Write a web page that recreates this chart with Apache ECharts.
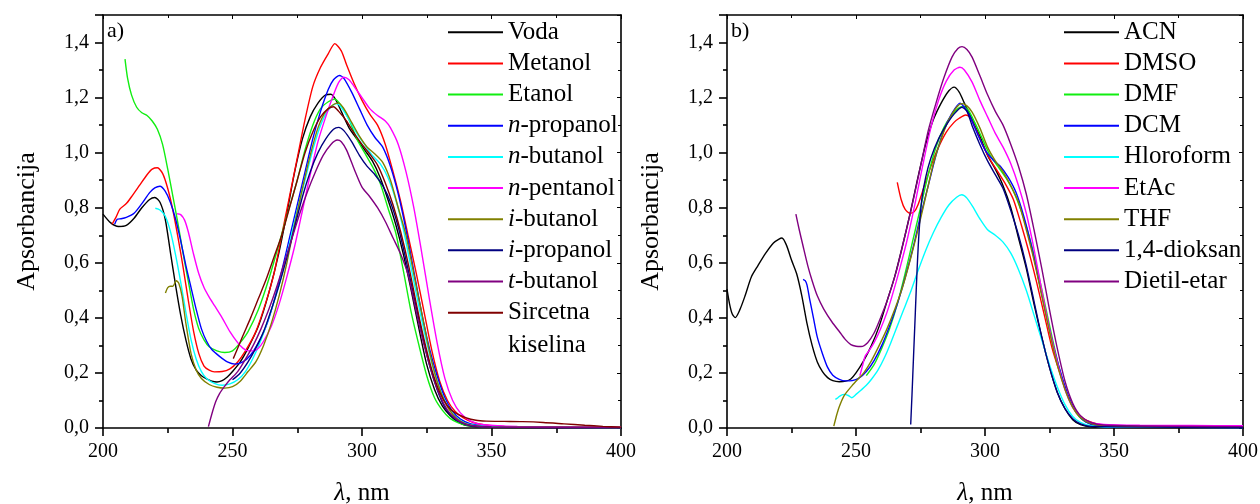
<!DOCTYPE html>
<html>
<head>
<meta charset="utf-8">
<script src="https://cdn.jsdelivr.net/npm/echarts@6/dist/echarts.min.js"></script>
<style>
  html, body { margin: 0; padding: 0; background: #fff; }
  #chart { width: 1260px; height: 504px; }
</style>
</head>
<body>
<div id="chart"></div>
<script>
const font = 'Liberation Serif'

// a) voda, alkoholi, sircetna kiselina
const namesA = ['Voda', 'Metanol', 'Etanol', 'n-propanol', 'n-butanol', 'n-pentanol',
  'i-butanol', 'i-propanol', 't-butanol', 'Sircetna kiselina']
const colorsA = ['#000000', '#ff0000', '#11ee11', '#0000ff', '#00ffff', '#ff00ff',
  '#808000', '#000080', '#800080', '#800000']

const voda = [[200,0.777],[203,0.745],[206,0.732],[209,0.736],[212,0.762],[215,0.8],[218,0.83],[220,0.837],[222,0.82],[224,0.76],[226,0.64],[228,0.52],[230,0.41],[232,0.32],[234,0.25],[236,0.21],[238,0.19],[240,0.178],[242,0.17],[244,0.167],[246,0.172],[248,0.185],[250,0.205],[253,0.24],[256,0.29],[260,0.37],[264,0.49],[268,0.64],[271,0.78],[274,0.93],[277,1.05],[280,1.13],[283,1.18],[286,1.21],[288,1.212],[290,1.19],[292,1.15],[295,1.09],[298,1.05],[301,1.01],[304,0.97],[307,0.91],[310,0.83],[313,0.74],[316,0.63],[319,0.5],[322,0.36],[325,0.23],[328,0.14],[331,0.08],[334,0.045],[337,0.022],[340,0.01],[345,0.004],[360,0.002],[400,0.001]]
const metanol = [[203.5,0.74],[205,0.765],[206.5,0.795],[209,0.815],[211,0.84],[214,0.88],[217,0.92],[219,0.94],[221,0.945],[223,0.925],[225,0.87],[227,0.79],[229,0.69],[231,0.58],[233,0.46],[235,0.35],[237,0.27],[239,0.225],[241,0.21],[243,0.204],[246,0.205],[249,0.215],[252,0.24],[255,0.28],[259,0.35],[263,0.46],[266,0.56],[269,0.7],[272,0.84],[275,0.98],[278,1.12],[281,1.24],[284,1.31],[287,1.36],[289.5,1.396],[292,1.37],[294,1.32],[297,1.25],[300,1.19],[303,1.14],[306,1.1],[309,1.03],[312,0.93],[315,0.82],[318,0.69],[321,0.56],[324,0.42],[327,0.28],[330,0.17],[333,0.1],[336,0.06],[339,0.038],[343,0.02],[347,0.012],[355,0.006],[400,0.003]]
const etanol = [[208.5,1.34],[209.5,1.27],[211,1.21],[213,1.165],[215,1.145],[217,1.135],[219,1.115],[221,1.085],[223,1.03],[225,0.94],[227,0.84],[229,0.74],[231,0.63],[233,0.53],[235,0.43],[237,0.36],[239,0.32],[241,0.295],[244,0.28],[247,0.274],[250,0.28],[253,0.31],[256,0.35],[260,0.43],[264,0.54],[268,0.67],[271,0.77],[275,0.9],[278,1.01],[281,1.1],[284,1.16],[287,1.185],[289.5,1.195],[292,1.17],[295,1.12],[298,1.05],[301,1.0],[304,0.95],[307,0.89],[310,0.8],[313,0.71],[316,0.57],[319,0.42],[322,0.3],[325,0.19],[328,0.11],[331,0.065],[334,0.035],[337,0.02],[341,0.009],[350,0.004],[400,0.001]]
const nPropanol = [[204.5,0.74],[205.5,0.758],[207,0.76],[209,0.765],[212,0.78],[215,0.815],[218,0.855],[220,0.872],[222,0.878],[224,0.86],[226,0.82],[228,0.76],[230,0.68],[232,0.59],[234,0.51],[236,0.43],[238,0.36],[240,0.315],[242,0.285],[245,0.26],[248,0.24],[251,0.232],[254,0.24],[257,0.265],[260,0.31],[263,0.37],[266,0.46],[269,0.57],[272,0.69],[275,0.81],[278,0.93],[281,1.05],[284,1.15],[287,1.23],[289,1.265],[291.3,1.28],[293,1.27],[296,1.22],[299,1.16],[302,1.1],[305,1.055],[308,1.02],[311,0.95],[314,0.85],[317,0.72],[320,0.57],[323,0.42],[326,0.29],[329,0.19],[332,0.11],[335,0.06],[338,0.032],[342,0.015],[350,0.005],[400,0.002]]
const nButanol = [[220.2,0.798],[222,0.792],[224,0.77],[226,0.715],[228,0.63],[230,0.53],[232,0.42],[234,0.32],[236,0.25],[238,0.205],[240,0.18],[243,0.162],[246,0.155],[249,0.16],[252,0.175],[255,0.205],[258,0.255],[261,0.32],[264,0.4],[268,0.52],[271,0.63],[275,0.79],[278,0.9],[281,1.01],[284,1.1],[287,1.155],[290,1.178],[292,1.165],[295,1.12],[298,1.07],[301,1.03],[304,0.99],[307,0.96],[310,0.91],[313,0.83],[316,0.72],[319,0.58],[322,0.44],[325,0.31],[328,0.2],[331,0.12],[334,0.065],[337,0.033],[341,0.014],[350,0.005],[400,0.002]]
const nPentanol = [[228.6,0.778],[230,0.775],[231.5,0.755],[233,0.71],[235,0.63],[237,0.56],[239,0.51],[241,0.475],[243,0.445],[246,0.4],[249,0.35],[252,0.31],[254,0.29],[256,0.28],[258,0.28],[260,0.29],[262,0.315],[265,0.37],[268,0.45],[271,0.55],[274,0.66],[277,0.79],[280,0.92],[283,1.04],[286,1.13],[289,1.21],[291,1.255],[293,1.274],[295,1.265],[297,1.24],[300,1.2],[303,1.16],[306,1.135],[309,1.115],[311,1.09],[314,1.03],[317,0.93],[320,0.8],[323,0.64],[326,0.47],[329,0.31],[332,0.18],[335,0.1],[338,0.055],[342,0.025],[347,0.012],[360,0.006],[400,0.003]]
const iButanol = [[224.1,0.49],[225,0.51],[226,0.515],[227,0.515],[228.3,0.535],[229.3,0.525],[230.5,0.48],[232,0.38],[234,0.27],[236,0.21],[238,0.18],[241,0.158],[244,0.148],[247,0.145],[250,0.15],[253,0.17],[256,0.205],[259,0.24],[262,0.3],[265,0.38],[268,0.48],[271,0.6],[274,0.74],[277,0.87],[280,0.99],[283,1.09],[286,1.15],[289,1.175],[291,1.18],[293,1.16],[296,1.11],[299,1.06],[302,1.02],[305,0.995],[308,0.965],[311,0.9],[314,0.8],[317,0.7],[320,0.56],[323,0.42],[326,0.28],[329,0.17],[332,0.095],[335,0.05],[338,0.025],[342,0.01],[350,0.004],[400,0.002]]
const iPropanol = [[250,0.175],[253,0.2],[256,0.24],[259,0.29],[262,0.35],[265,0.43],[268,0.52],[271,0.62],[274,0.73],[277,0.84],[280,0.93],[283,1.0],[286,1.05],[289,1.085],[291,1.092],[293,1.08],[296,1.04],[299,0.99],[302,0.95],[305,0.92],[308,0.88],[311,0.82],[314,0.73],[317,0.61],[320,0.48],[323,0.35],[326,0.23],[329,0.14],[332,0.075],[335,0.04],[338,0.02],[342,0.008],[350,0.003],[400,0.001]]
const tButanol = [[240.7,0.005],[242,0.05],[243.5,0.095],[245,0.125],[247,0.152],[249,0.175],[252,0.205],[255,0.25],[258,0.3],[261,0.36],[264,0.43],[267,0.51],[270,0.6],[273,0.69],[276,0.78],[279,0.86],[282,0.93],[285,0.99],[288,1.03],[290.5,1.046],[292,1.04],[294,1.01],[297,0.94],[300,0.875],[303,0.84],[306,0.8],[309,0.75],[312,0.69],[315,0.63],[318,0.55],[321,0.42],[324,0.3],[327,0.2],[330,0.12],[333,0.065],[336,0.035],[339,0.018],[343,0.008],[350,0.003],[400,0.001]]
const sircetna = [[250.3,0.252],[252,0.29],[254,0.335],[257,0.4],[260,0.47],[263,0.54],[266,0.62],[269,0.7],[272,0.8],[275,0.9],[278,1.0],[281,1.075],[284,1.13],[287,1.16],[289,1.167],[291,1.15],[294,1.115],[297,1.07],[300,1.03],[303,0.995],[306,0.955],[309,0.89],[312,0.81],[315,0.71],[318,0.59],[321,0.45],[324,0.32],[327,0.21],[330,0.13],[333,0.08],[336,0.055],[340,0.038],[344,0.028],[348,0.025],[355,0.024],[362,0.023],[370,0.02],[378,0.015],[386,0.01],[393,0.006],[400,0.003]]
const dataA = [voda, metanol, etanol, nPropanol, nButanol, nPentanol, iButanol, iPropanol, tButanol, sircetna]

// b) aprotični rastvarači
const namesB = ['ACN', 'DMSO', 'DMF', 'DCM', 'Hloroform', 'EtAc', 'THF', '1,4-dioksan', 'Dietil-etar']
const colorsB = ['#000000', '#ff0000', '#11ee11', '#0000ff', '#00ffff', '#ff00ff',
  '#808000', '#000080', '#800080']

const acn = [[200,0.504],[201,0.45],[202,0.415],[203.2,0.401],[205,0.43],[207,0.48],[209.5,0.55],[212,0.59],[215,0.635],[218,0.672],[220,0.685],[221.3,0.69],[223,0.665],[225,0.61],[227,0.56],[229,0.48],[231,0.38],[233,0.3],[235,0.24],[237,0.205],[239,0.183],[241,0.172],[243.5,0.168],[246,0.17],[248,0.178],[250,0.2],[253,0.245],[256,0.3],[259,0.37],[262,0.46],[265,0.55],[268,0.66],[271,0.78],[274,0.91],[277,1.03],[280,1.12],[283,1.18],[286,1.225],[288,1.238],[290,1.22],[292,1.18],[295,1.12],[298,1.06],[301,0.99],[304,0.94],[307,0.88],[310,0.8],[313,0.69],[316,0.58],[319,0.45],[322,0.33],[325,0.22],[328,0.13],[331,0.07],[334,0.03],[337,0.012],[341,0.004],[360,0.002],[400,0.002]]
const dmso = [[266,0.892],[267.5,0.83],[269,0.795],[270.9,0.78],[272.5,0.785],[274,0.81],[276.5,0.88],[279,0.95],[282,1.02],[285,1.075],[288,1.11],[290,1.125],[292.5,1.137],[294,1.13],[296,1.095],[299,1.03],[302,0.975],[305,0.93],[308,0.885],[311,0.83],[314,0.74],[317,0.64],[320,0.53],[323,0.41],[326,0.29],[329,0.2],[332,0.12],[335,0.065],[338,0.035],[342,0.018],[347,0.01],[360,0.007],[400,0.006]]
const dmf = [[254,0.19],[257,0.23],[260,0.29],[263,0.36],[266,0.45],[269,0.56],[272,0.68],[275,0.8],[278,0.92],[281,1.02],[284,1.09],[287,1.135],[289.5,1.16],[291.5,1.168],[293.5,1.155],[296,1.11],[299,1.05],[302,0.99],[305,0.95],[308,0.91],[311,0.86],[314,0.79],[317,0.7],[320,0.59],[323,0.46],[326,0.33],[329,0.21],[332,0.12],[335,0.06],[338,0.028],[342,0.012],[348,0.007],[400,0.005]]
const dcm = [[229.5,0.54],[230.3,0.535],[231,0.52],[232,0.47],[233.5,0.4],[235,0.33],[237,0.27],[239,0.22],[241,0.192],[243.5,0.177],[246,0.171],[248.5,0.172],[251,0.18],[254,0.205],[257,0.245],[260,0.3],[263,0.37],[266,0.45],[269,0.545],[272,0.65],[275,0.77],[278,0.88],[281,0.99],[284,1.08],[287,1.14],[290.3,1.18],[292,1.165],[294,1.135],[297,1.07],[300,1.01],[303,0.975],[306,0.95],[309,0.91],[312,0.856],[315,0.77],[318,0.66],[321,0.53],[324,0.4],[327,0.28],[330,0.18],[333,0.1],[336,0.05],[339,0.022],[343,0.009],[350,0.003],[400,0.002]]
const hloroform = [[242,0.104],[243,0.11],[244,0.118],[245.5,0.122],[247,0.118],[248.4,0.11],[250,0.122],[252,0.138],[254,0.155],[256,0.177],[258.5,0.21],[261,0.255],[263.5,0.31],[266,0.37],[268.5,0.43],[271,0.49],[274,0.57],[277,0.645],[280,0.71],[283,0.765],[286,0.81],[289,0.838],[291,0.847],[293,0.835],[295.5,0.8],[298,0.76],[301,0.72],[304,0.7],[307,0.675],[310,0.635],[313,0.575],[316,0.5],[319,0.41],[322,0.32],[325,0.23],[328,0.15],[331,0.085],[334,0.042],[337,0.02],[341,0.008],[350,0.003],[400,0.002]]
const etac = [[251.5,0.19],[252.5,0.225],[253.5,0.26],[255,0.28],[257,0.31],[259.3,0.355],[262,0.42],[264,0.48],[267,0.58],[270,0.69],[273,0.82],[276,0.96],[279,1.09],[282,1.19],[285,1.26],[288,1.3],[290.3,1.31],[292,1.3],[295,1.256],[298,1.19],[301,1.13],[304,1.07],[307,1.02],[310,0.96],[313,0.88],[316,0.78],[319,0.65],[322,0.5],[325,0.36],[328,0.24],[331,0.14],[334,0.075],[337,0.04],[341,0.02],[346,0.013],[360,0.01],[380,0.009],[400,0.008]]
const thf = [[241.4,0.007],[242.3,0.04],[243.3,0.072],[245.3,0.116],[248.4,0.153],[251,0.18],[253,0.2],[256,0.245],[259,0.3],[262,0.36],[265,0.43],[268,0.51],[271,0.61],[274,0.72],[277,0.84],[280,0.96],[283,1.05],[286,1.12],[289,1.165],[291.1,1.178],[293,1.17],[295,1.147],[298,1.09],[301,1.02],[304,0.97],[307,0.93],[310,0.88],[313,0.82],[316,0.72],[319,0.61],[322,0.48],[325,0.35],[328,0.23],[331,0.14],[334,0.075],[337,0.038],[341,0.016],[350,0.006],[400,0.004]]
const dioksan = [[271.2,0.013],[271.7,0.12],[272.3,0.26],[273,0.42],[273.7,0.58],[274.5,0.72],[275.5,0.83],[277,0.91],[279,0.98],[282,1.05],[285,1.1],[288,1.14],[291,1.165],[293,1.15],[295,1.098],[298,1.03],[301,0.97],[304,0.92],[307,0.87],[310,0.79],[313,0.7],[316,0.59],[319,0.46],[322,0.33],[325,0.22],[328,0.13],[331,0.07],[334,0.034],[337,0.015],[341,0.006],[400,0.002]]
const dietil = [[226.7,0.777],[228,0.72],[229.5,0.66],[231.3,0.59],[233,0.535],[235,0.48],[237.5,0.432],[240.7,0.385],[243.8,0.347],[246,0.32],[248,0.303],[250,0.297],[252,0.296],[254.5,0.31],[257,0.345],[259.3,0.395],[262,0.46],[265.5,0.565],[268.5,0.68],[271.7,0.807],[275,0.95],[278,1.08],[281,1.18],[284,1.27],[287.2,1.347],[289.5,1.378],[291.1,1.385],[293,1.375],[295,1.347],[298,1.28],[301,1.21],[304,1.15],[307,1.1],[310,1.03],[313,0.95],[316,0.85],[319,0.72],[322,0.58],[325,0.43],[328,0.29],[331,0.17],[334,0.09],[337,0.045],[341,0.02],[347,0.01],[400,0.005]]
const dataB = [acn, dmso, dmf, dcm, hloroform, etac, thf, dioksan, dietil]

const axisColor = '#000'
const lineW = 1.6

function frameAxes(grid) {
  const base = {
    type: 'value', gridIndex: grid, splitLine: { show: false },
    axisLine: { onZero: false, lineStyle: { color: axisColor, width: lineW } },
  }
  const xAxis = [
    Object.assign({}, base, {
      position: 'bottom', min: 200, max: 400, interval: 50,
      axisTick: { length: 8, lineStyle: { color: axisColor, width: lineW } },
      minorTick: { show: true, splitNumber: 2, length: 5, lineStyle: { color: axisColor, width: lineW } },
      axisLabel: { fontFamily: font, fontSize: 20, color: '#000', margin: 14 },
      name: '{i|λ}, nm', nameLocation: 'middle', nameGap: 53,
      nameTextStyle: { fontFamily: font, fontSize: 25, color: '#000',
        rich: { i: { fontFamily: font, fontSize: 25, fontStyle: 'italic', color: '#000' } } },
    }),
    Object.assign({}, base, {
      position: 'top', min: 200, max: 400, interval: 50,
      axisTick: { inside: true, length: 4, lineStyle: { color: axisColor, width: 1 } },
      minorTick: { show: true, splitNumber: 2, length: 3, lineStyle: { color: axisColor, width: 1 } },
      axisLabel: { show: false },
    }),
  ]
  const yAxis = [
    Object.assign({}, base, {
      position: 'left', min: 0, max: 1.5, interval: 0.2,
      axisTick: { length: 8, lineStyle: { color: axisColor, width: lineW } },
      minorTick: { show: true, splitNumber: 2, length: 4, lineStyle: { color: axisColor, width: lineW } },
      axisLabel: { fontFamily: font, fontSize: 20, color: '#000', margin: 14, showMaxLabel: false,
        formatter: v => v.toFixed(1).replace('.', ',') },
      name: 'Apsorbancija', nameLocation: 'middle', nameGap: 63,
      nameTextStyle: { fontFamily: font, fontSize: 26, color: '#000' },
    }),
    Object.assign({}, base, {
      position: 'right', min: 0, max: 1.5, interval: 0.2,
      axisTick: { inside: true, length: 4, lineStyle: { color: axisColor, width: 1 } },
      minorTick: { show: true, splitNumber: 2, length: 3, lineStyle: { color: axisColor, width: 1 } },
      axisLabel: { show: false },
    }),
  ]
  return { xAxis, yAxis }
}

const axA = frameAxes(0)
const axB = frameAxes(1)

function makeSeries(names, colors, data, axisIdx) {
  return names.map((name, i) => ({
    type: 'line', name, data: data[i],
    xAxisIndex: axisIdx, yAxisIndex: axisIdx,
    symbol: 'none', showSymbol: false, smooth: 0.25,
    lineStyle: { color: colors[i], width: 1.4 },
    itemStyle: { color: colors[i] },
  }))
}

// italic prefix for n-, i-, t- names
function legendLabel(name) {
  if (name === 'Sircetna kiselina') return 'Sircetna'
  const m = /^([nit])-(.*)$/.exec(name)
  return m ? '{i|' + m[1] + '}-' + m[2] : name
}

function makeLegend(names, left) {
  return {
    data: names, orient: 'vertical', left, top: 19.3, padding: 0,
    icon: 'rect', itemWidth: 55, itemHeight: 2, itemGap: 5.15, selectedMode: false,
    formatter: legendLabel,
    textStyle: {
      fontFamily: font, fontSize: 25, lineHeight: 26, color: '#000',
      rich: { i: { fontFamily: font, fontSize: 25, lineHeight: 26, fontStyle: 'italic', color: '#000' } },
    },
  }
}

const chart = echarts.init(document.getElementById('chart'))
chart.setOption({
  animation: false,
  backgroundColor: '#fff',
  grid: [
    { left: 103, width: 518, top: 15, height: 413, outerBoundsMode: 'none' },
    { left: 727, width: 516, top: 15, height: 413, outerBoundsMode: 'none' },
  ],
  xAxis: axA.xAxis.concat(axB.xAxis),
  yAxis: axA.yAxis.concat(axB.yAxis),
  legend: [makeLegend(namesA, 448), makeLegend(namesB, 1064)],
  series: makeSeries(namesA, colorsA, dataA, 0)
    .concat(makeSeries(namesB, colorsB, dataB, 2)),
  graphic: [
    { type: 'text', left: 107, top: 20, style: { text: 'a)', font: '22px "Liberation Serif"', fill: '#000' } },
    { type: 'text', left: 731, top: 20, style: { text: 'b)', font: '22px "Liberation Serif"', fill: '#000' } },
    { type: 'text', left: 508, top: 333, style: { text: 'kiselina', font: '25px "Liberation Serif"', fill: '#000' } },
  ],
})
</script>
</body>
</html>
